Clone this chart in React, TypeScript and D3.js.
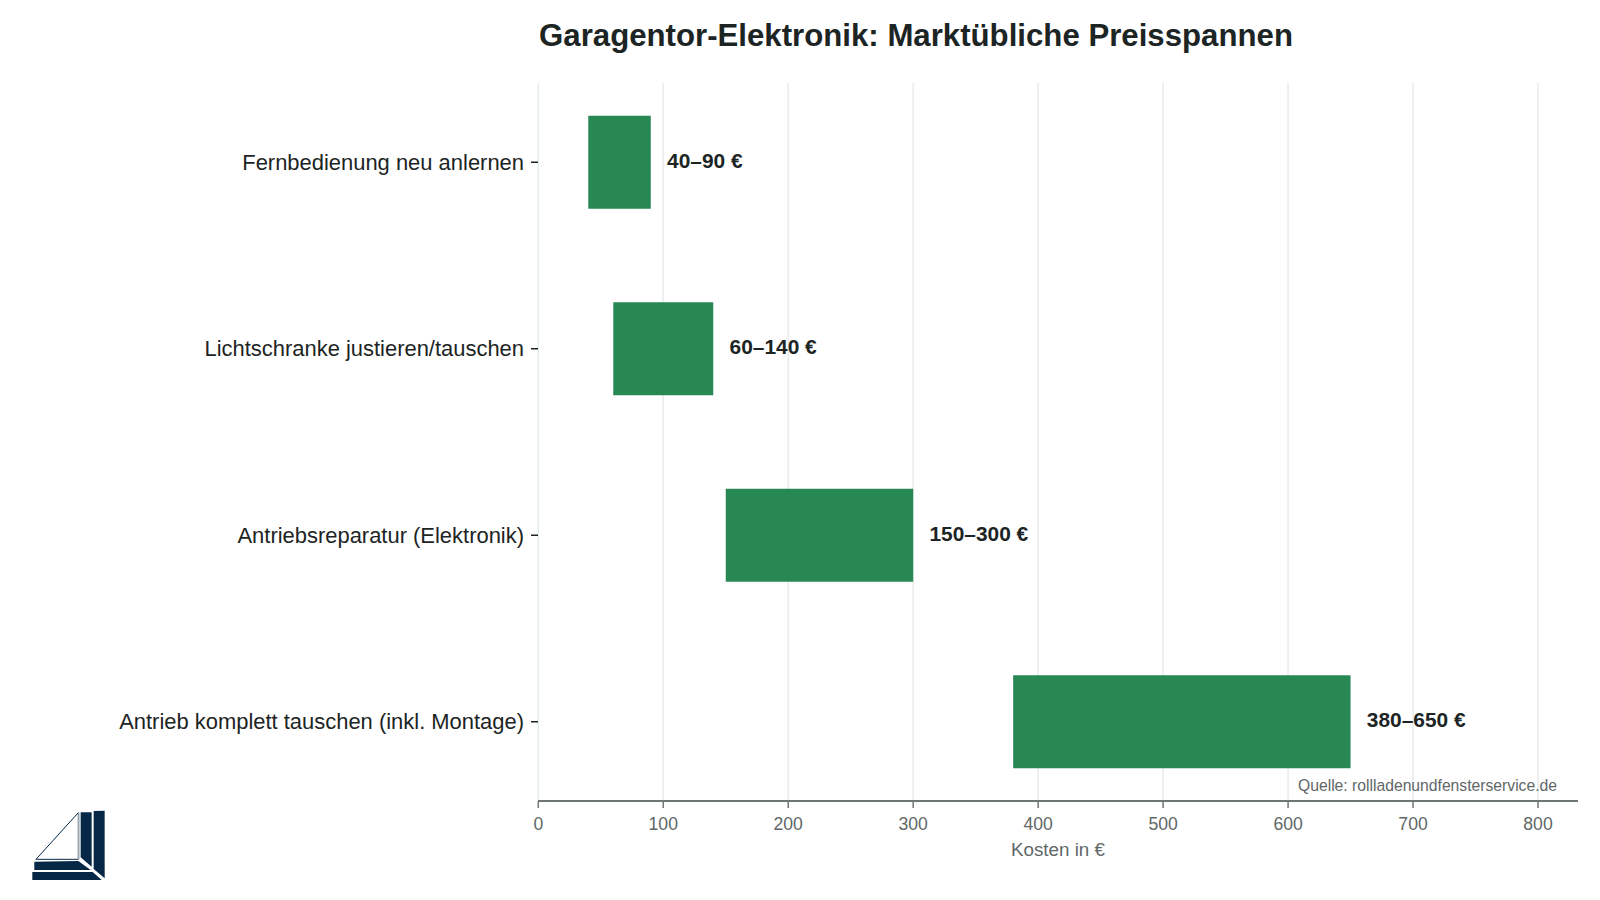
import React from "react";
import * as d3 from "d3";

const categories = [
  "Fernbedienung neu anlernen",
  "Lichtschranke justieren/tauschen",
  "Antriebsreparatur (Elektronik)",
  "Antrieb komplett tauschen (inkl. Montage)",
];
const lowValues = [40, 60, 150, 380];
const highValues = [90, 140, 300, 650];
const xTicks = [0, 100, 200, 300, 400, 500, 600, 700, 800];
const titleText = "Garagentor-Elektronik: Marktübliche Preisspannen";
const xAxisLabel = "Kosten in €";
const sourceText = "Quelle: rollladenundfensterservice.de";

const FONT = '"Liberation Sans", Arial, sans-serif';
const logoDark = "#062846";
const logoShapes = [
  "182,127 215,127 215,290 182,262",
  "221,123 254,122 254,325 221,297",
  "43,275 175,273 212,300 43,300",
  "37,306 218,306 245,330 37,330",
];

export default function App() {
  const x = d3.scaleLinear().domain([0, 800]).range([538.3, 1538]);
  const y = d3.scaleBand<string>().domain(categories).range([69, 815]).paddingInner(0.5).paddingOuter(0.25);
  const axisY = 801;
  const axisRight = 1578;
  const bh = 93;
  const centers = categories.map((c) => (y(c) as number) + y.bandwidth() / 2);
  return (
    <svg width={1600} height={900} style={{ position: "absolute", left: 0, top: 0, background: "#fff" }} fontFamily={FONT}>
      {xTicks.map((t) => (
        <line key={t} x1={x(t)} x2={x(t)} y1={83} y2={axisY} stroke="#e8eded" strokeWidth={1.6} />
      ))}
      {categories.map((c, i) => (
        <g key={c}>
          <rect x={x(lowValues[i])} width={x(highValues[i]) - x(lowValues[i])} y={centers[i] - bh / 2} height={bh} fill="#1b8149" fillOpacity={0.94} />
          <line x1={531} x2={538} y1={centers[i]} y2={centers[i]} stroke="#1c2424" strokeWidth={1.5} />
          <text x={524} y={centers[i]} dy="0.35em" textAnchor="end" fontSize={21.95} fill="#1c2424">{c}</text>
          <text x={x(highValues[i]) + 16.3} y={centers[i] - 2} dy="0.35em" fontSize={20.9} fontWeight={700} fill="#1c2424">{`${lowValues[i]}–${highValues[i]} €`}</text>
        </g>
      ))}
      <line x1={538} x2={axisRight} y1={axisY} y2={axisY} stroke="#6f7775" strokeWidth={1.8} />
      {xTicks.map((t) => (
        <g key={t}>
          <line x1={x(t)} x2={x(t)} y1={axisY} y2={axisY + 7} stroke="#6f7775" strokeWidth={1.5} />
          <text x={x(t)} y={829.5} textAnchor="middle" fontSize={17.6} fill="#5f6867">{t}</text>
        </g>
      ))}
      <text x={1058} y={856} textAnchor="middle" fontSize={18.8} fill="#5f6867">{xAxisLabel}</text>
      <text x={1557} y={791} textAnchor="end" fontSize={15.7} fill="#5f6867">{sourceText}</text>
      <text x={916} y={46} textAnchor="middle" fontSize={31.2} fontWeight={700} fill="#1c2424">{titleText}</text>
      <g transform="translate(20,770) scale(0.3333)">
        <polygon points="175,128 48,268 175,268" fill="#fff" stroke={logoDark} strokeWidth={3} />
        <polygon points="175,128 180,128 180,268 175,268" fill="#c9d0d6" />
        {logoShapes.map((p) => (
          <polygon key={p} points={p} fill={logoDark} />
        ))}
      </g>
    </svg>
  );
}
